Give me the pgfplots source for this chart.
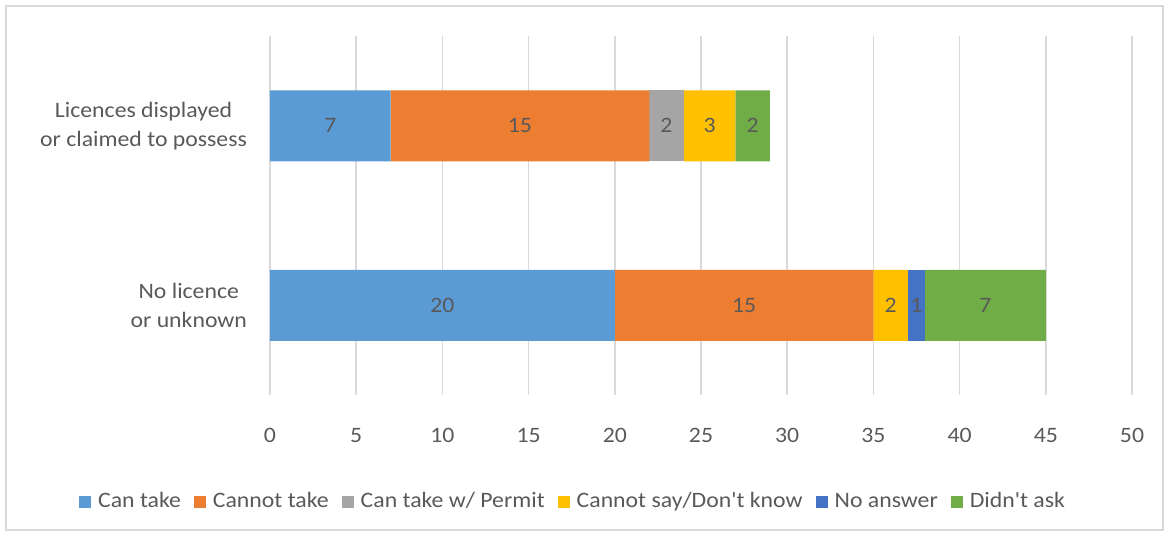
\documentclass[border=0pt]{standalone}
\usepackage{pgfplots}
\pgfplotsset{compat=1.18}
\usepackage{fontspec}
\setmainfont{Carlito}[FakeStretch=1.08, Ligatures=TeXOff]
\definecolor{cA}{HTML}{5B9BD5}
\definecolor{cB}{HTML}{ED7D31}
\definecolor{cC}{HTML}{A5A5A5}
\definecolor{cD}{HTML}{FFC000}
\definecolor{cE}{HTML}{4472C4}
\definecolor{cF}{HTML}{70AD47}
\definecolor{txt}{HTML}{595959}
\definecolor{grd}{HTML}{D9D9D9}
\begin{document}
\begin{tikzpicture}
\useasboundingbox (-135pt,-70.5pt) rectangle (449.5pt,197.5pt);
\draw[grd, line width=0.75pt] (-132pt,-67.5pt) rectangle (446.5pt,194.5pt);
\begin{axis}[
  at={(0pt,0pt)}, anchor=south west,
  scale only axis, width=431pt, height=179.5pt,
  xbar stacked, bar width=35.5pt,
  xmin=0, xmax=50, ymin=-0.5, ymax=1.5,
  xtick={0,5,...,50},
  ytick={0,1},
  yticklabels={{No licence\\or unknown},{Licences displayed\\or claimed to possess}},
  yticklabel style={align=center, font=\fontsize{11pt}{14.5pt}\selectfont, text=txt, xshift=-8pt},
  xticklabel style={font=\fontsize{11pt}{13pt}\selectfont, text=txt, yshift=-13pt},
  /pgf/number format/assume math mode=true,
  major tick length=0pt,
  axis line style={draw=none},
  xmajorgrids, grid style={grd, line width=0.75pt},
  legend style={at={(0.3527,-0.2975)}, anchor=center, draw=none, fill=none,
    legend columns=-1, font=\fontsize{11pt}{13pt}\selectfont, text=txt,
    /tikz/every odd column/.append style={column sep=1.5pt},
    /tikz/every even column/.append style={column sep=4.5pt},
    inner sep=0pt},
  legend image code/.code={\fill[#1] (0pt,-3pt) rectangle (6pt,3pt);},
]
\addplot[fill=cA, draw=none] coordinates {(20,0) (7,1)};
\addplot[fill=cB, draw=none] coordinates {(15,0) (15,1)};
\addplot[fill=cC, draw=none] coordinates {(0,0) (2,1)};
\addplot[fill=cD, draw=none] coordinates {(2,0) (3,1)};
\addplot[fill=cE, draw=none] coordinates {(1,0) (0,1)};
\addplot[fill=cF, draw=none] coordinates {(7,0) (2,1)};
\legend{Can take, Cannot take, Can take w/ Permit, Cannot say/Don't know, No answer, Didn't ask}
\end{axis}
\begin{axis}[
  at={(0pt,0pt)}, anchor=south west,
  scale only axis, width=431pt, height=179.5pt,
  xmin=0, xmax=50, ymin=-0.5, ymax=1.5,
  hide axis,
]
\addplot[only marks, mark=none, nodes near coords, point meta=explicit symbolic,
  every node near coord/.style={anchor=center, font=\fontsize{11pt}{13pt}\selectfont, text=txt}]
  coordinates {(3.5,1) [7] (14.5,1) [15] (23,1) [2] (25.5,1) [3] (28,1) [2]
               (10,0) [20] (27.5,0) [15] (36,0) [2] (37.5,0) [1] (41.5,0) [7]};
\end{axis}
\end{tikzpicture}
\end{document}
